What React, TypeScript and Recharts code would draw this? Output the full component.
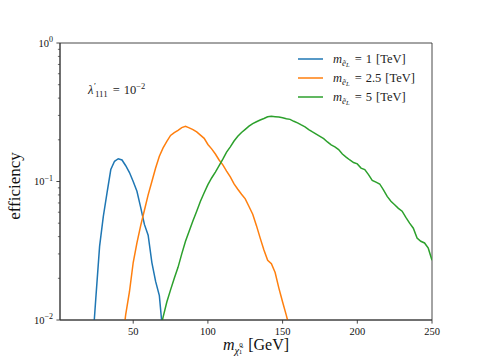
import {
  Legend,
  Line,
  LineChart,
  ReferenceArea,
  XAxis,
  YAxis,
} from 'recharts'

// m_selectron = 1 TeV
const blueX = [22.5, 25, 27.5, 30, 32.5, 35, 37.5, 40, 42.5, 45, 47.5, 50, 52.5, 55, 57.5, 60, 62.5, 65, 67.5, 70]
const blueY = [0.006, 0.0145, 0.034, 0.056, 0.083, 0.122, 0.14, 0.146, 0.143, 0.13, 0.116, 0.1, 0.085, 0.065, 0.049, 0.041, 0.026, 0.019, 0.015, 0.0076]

// m_selectron = 2.5 TeV
const orangeX = [42.5, 45, 47.5, 50, 52.5, 55, 57.5, 60, 62.5, 65, 67.5, 70, 72.5, 75, 77.5, 80, 82.5, 85, 87.5, 90, 92.5, 95, 97.5, 100, 102.5, 105, 107.5, 110, 112.5, 115, 117.5, 120, 122.5, 125, 127.5, 130, 132.5, 135, 137.5, 140, 142.5, 145, 147.5, 150, 152.5, 155]
const orangeY = [0.0065, 0.011, 0.016, 0.026, 0.036, 0.048, 0.062, 0.08, 0.1, 0.125, 0.152, 0.175, 0.195, 0.215, 0.225, 0.234, 0.245, 0.25, 0.244, 0.237, 0.228, 0.216, 0.205, 0.185, 0.172, 0.158, 0.143, 0.132, 0.119, 0.108, 0.096, 0.088, 0.081, 0.075, 0.066, 0.058, 0.048, 0.039, 0.032, 0.027, 0.0255, 0.022, 0.017, 0.0135, 0.0108, 0.0085]

// m_selectron = 5 TeV
const greenX = [67.5, 70, 72.5, 75, 77.5, 80, 82.5, 85, 87.5, 90, 92.5, 95, 97.5, 100, 102.5, 105, 107.5, 110, 112.5, 115, 117.5, 120, 122.5, 125, 127.5, 130, 132.5, 135, 137.5, 140, 142.5, 145, 147.5, 150, 152.5, 155, 157.5, 160, 162.5, 165, 167.5, 170, 172.5, 175, 177.5, 180, 182.5, 185, 187.5, 190, 192.5, 195, 197.5, 200, 202.5, 205, 207.5, 210, 212.5, 215, 217.5, 220, 222.5, 225, 227.5, 230, 232.5, 235, 237.5, 240, 242.5, 245, 247.5, 250]
const greenY = [0.008, 0.0105, 0.0135, 0.0165, 0.02, 0.024, 0.03, 0.037, 0.044, 0.052, 0.061, 0.072, 0.083, 0.095, 0.106, 0.117, 0.13, 0.145, 0.163, 0.178, 0.196, 0.212, 0.226, 0.238, 0.251, 0.262, 0.27, 0.278, 0.285, 0.293, 0.296, 0.294, 0.292, 0.289, 0.284, 0.281, 0.272, 0.265, 0.256, 0.248, 0.237, 0.228, 0.22, 0.212, 0.204, 0.193, 0.184, 0.178, 0.17, 0.158, 0.15, 0.143, 0.137, 0.134, 0.125, 0.122, 0.112, 0.102, 0.099, 0.096, 0.087, 0.078, 0.072, 0.068, 0.064, 0.061, 0.055, 0.05, 0.046, 0.039, 0.037, 0.036, 0.033, 0.027]

const selectronMasses = ['1', '2.5', '5']
const seriesColors = ['#1f77b4', '#ff7f0e', '#2ca02c']

const xTicks = [50, 100, 150, 200, 250]
const yMajorTicks = [0.01, 0.1, 1]
const yMinorTicks = [0.02, 0.03, 0.04, 0.05, 0.06, 0.07, 0.08, 0.09, 0.2, 0.3, 0.4, 0.5, 0.6, 0.7, 0.8, 0.9]
const yMajorExponents = ['−2', '−1', '0']

const toPoints = (xs: number[], ys: number[]) => xs.map((x, i) => ({ x, y: ys[i] }))

const series = [toPoints(blueX, blueY), toPoints(orangeX, orangeY), toPoints(greenX, greenY)]

const FONT = '"Liberation Serif", "DejaVu Serif", serif'
const AXIS = '#333'

function XTick(props: any) {
  const { x, y, payload } = props
  return (
    <g>
      <line x1={x} x2={x} y1={y} y2={y + 3.6} stroke={AXIS} strokeWidth={0.9} />
      <text x={x} y={y + 15} textAnchor="middle" fontSize={10.5} fontFamily={FONT} fill="#111">
        {payload.value}
      </text>
    </g>
  )
}

function YTick(props: any) {
  const { x, y, payload } = props
  const idx = yMajorTicks.indexOf(payload.value)
  const major = idx >= 0
  return (
    <g>
      <line x1={x - (major ? 3.6 : 2.1)} x2={x} y1={y} y2={y} stroke={AXIS} strokeWidth={major ? 0.9 : 0.7} />
      {major && (
        <text x={x - 7} y={y + 3.5} textAnchor="end" fontSize={10.5} fontFamily={FONT} fill="#111">
          10
          <tspan fontSize={8} dy={-4.5}>{yMajorExponents[idx]}</tspan>
        </text>
      )}
    </g>
  )
}

function LegendBox(props: any) {
  const payload = props.payload || []
  return (
    <svg width={150} height={62}>
      {payload.map((entry: any, i: number) => {
        const cy = 11 + i * 19
        return (
          <g key={i}>
            <line x1={8} x2={33} y1={cy} y2={cy} stroke={entry.color} strokeWidth={1.5} />
            <text x={43} y={cy + 4} fontSize={12.5} fontFamily={FONT} fill="#222">
              <tspan fontStyle="italic">m</tspan>
              <tspan fontSize={9} dy={2.5} fontStyle="italic">ẽ</tspan>
              <tspan fontSize={6.5} dy={1.5} fontStyle="italic">L</tspan>
              <tspan dy={-4} dx={5}>=</tspan>
              <tspan dx={4}>{selectronMasses[i]}</tspan>
              <tspan dx={4}>[TeV]</tspan>
            </text>
          </g>
        )
      })}
    </svg>
  )
}

export default function App() {
  return (
    <div style={{ position: 'absolute', left: 0, top: 0, background: '#fff' }}>
      <LineChart width={480} height={360} margin={{ top: 43, right: 48, bottom: 0, left: 0 }}>
        <XAxis
          type="number"
          dataKey="x"
          domain={[1, 250]}
          allowDataOverflow
          ticks={xTicks}
          height={40}
          tickSize={0}
          tickMargin={0}
          tickLine={false}
          tick={<XTick />}
          axisLine={{ stroke: AXIS, strokeWidth: 0.9 }}
        />
        <YAxis
          type="number"
          scale="log"
          domain={[0.01, 1]}
          allowDataOverflow
          ticks={[...yMajorTicks, ...yMinorTicks]}
          interval={0}
          width={60}
          tickSize={0}
          tickMargin={0}
          tickLine={false}
          tick={<YTick />}
          axisLine={{ stroke: AXIS, strokeWidth: 0.9 }}
        />
        <ReferenceArea x1={1} x2={250} y1={0.01} y2={1} fill="none" stroke={AXIS} strokeWidth={0.9} />
        {series.map((data, i) => (
          <Line
            key={i}
            data={data}
            dataKey="y"
            name={`m = ${selectronMasses[i]} TeV`}
            stroke={seriesColors[i]}
            strokeWidth={1.5}
            dot={false}
            isAnimationActive={false}
            type="linear"
          />
        ))}
        <Legend
          layout="horizontal"
          verticalAlign="middle"
          align="center"
          content={<LegendBox />}
          wrapperStyle={{ position: 'absolute', left: 290, top: 48, width: 150, height: 62 }}
        />
        <text x={88} y={94} fontSize={12.5} fontFamily={FONT} fill="#222">
          <tspan fontStyle="italic">λ</tspan>
          <tspan fontSize={9} dy={-5} dx={0.5}>′</tspan>
          <tspan fontSize={9} dy={8} dx={-1}>111</tspan>
          <tspan dy={-3} dx={5}>=</tspan>
          <tspan dx={4}>10</tspan>
          <tspan fontSize={8.5} dy={-5}>−2</tspan>
        </text>
        <text
          x={20}
          y={186}
          transform="rotate(-90 20 186)"
          textAnchor="middle"
          fontSize={17}
          fontFamily={FONT}
          fill="#111"
        >
          efficiency
        </text>
        <text x={223} y={350} fontSize={16} fontFamily={FONT} fill="#111">
          <tspan fontStyle="italic">m</tspan>
          <tspan fontSize={10.5} dy={4} fontStyle="italic">χ̃</tspan>
          <tspan fontSize={7} dy={-7}>0</tspan>
          <tspan fontSize={7} dx={-4} dy={7}>1</tspan>
          <tspan dy={-4} dx={6}>[GeV]</tspan>
        </text>
      </LineChart>
    </div>
  )
}
